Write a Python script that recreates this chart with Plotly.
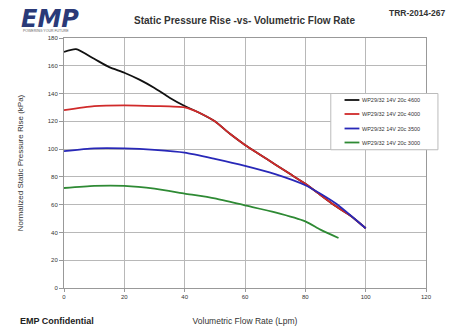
import plotly.graph_objects as go

series_names = ["WP29/32 14V 20c 4600", "WP29/32 14V 20c 4000",
                "WP29/32 14V 20c 3500", "WP29/32 14V 20c 3000"]
colors = ["#111111", "#d02a2a", "#2828b8", "#2e8a34"]

x_black = [0, 4, 10, 15, 20, 25, 30, 35, 40, 45, 50, 55, 60, 65, 70, 75, 80, 85, 90, 95, 100]
y_black = [170, 172, 165, 159, 155, 150, 144, 137, 131, 126, 120, 111, 103, 96, 89, 82, 75, 67, 59, 52, 43]
x_red = [0, 10, 20, 30, 40, 45, 50, 55, 60, 65, 70, 75, 80, 85, 90, 95, 100]
y_red = [128, 131, 131.5, 131, 130, 126, 120, 111, 103, 96, 89, 82, 75, 67, 59, 52, 43]
x_blue = [0, 10, 20, 30, 40, 50, 60, 70, 80, 90, 100]
y_blue = [98.5, 100.5, 100.5, 99.5, 97.5, 93, 88, 82, 74, 61, 43]
x_green = [0, 10, 20, 30, 40, 50, 60, 70, 80, 85, 91]
y_green = [72, 73.5, 73.5, 71.5, 68, 64.5, 59.5, 54.5, 48, 42, 36]

x_ticks = [0, 20, 40, 60, 80, 100, 120]
y_ticks = [0, 20, 40, 60, 80, 100, 120, 140, 160, 180]

xs = [x_black, x_red, x_blue, x_green]
ys = [y_black, y_red, y_blue, y_green]

fig = go.Figure()
for name, c, xv, yv in zip(series_names, colors, xs, ys):
    fig.add_trace(go.Scatter(x=xv, y=yv, mode="lines", name=name, showlegend=False,
                             line=dict(color=c, width=1.8, shape="spline", smoothing=0.6)))

font = "Liberation Sans, Arial, sans-serif"
# page body has an 8px default margin, so the figure is 8px smaller than the window
fig.update_layout(
    width=446, height=328,
    margin=dict(l=49, r=28, t=30, b=41),
    paper_bgcolor="white", plot_bgcolor="white",
    font=dict(family=font, size=6, color="#333"),
    showlegend=False,
    xaxis=dict(range=[0, 120], tickvals=x_ticks, showgrid=True, gridcolor="#b8b8b8",
               gridwidth=1, showline=True, linecolor="#999", mirror=True,
               ticks="outside", ticklen=3, tickcolor="#999", zeroline=False,
               tickfont=dict(size=6, color="#333"),
               title=dict(text="Volumetric Flow Rate (Lpm)", font=dict(size=8.5, color="#333"), standoff=18)),
    yaxis=dict(range=[0, 180], tickvals=y_ticks, showgrid=True, gridcolor="#b8b8b8",
               gridwidth=1, showline=True, linecolor="#999", mirror=True,
               ticks="outside", ticklen=4, tickcolor="#999", zeroline=False,
               tickfont=dict(size=6, color="#333"),
               title=dict(text="Normalized Static Pressure Rise (kPa)", font=dict(size=8, color="#333"), standoff=22)),
)

# legend box (manual, compact like the reference)
leg_x0, leg_x1, leg_y0, leg_y1 = 0.737, 1.033, 0.553, 0.778
fig.add_shape(type="rect", xref="paper", yref="paper", x0=leg_x0, x1=leg_x1, y0=leg_y0, y1=leg_y1,
              line=dict(color="#bbbbbb", width=1), fillcolor="white", layer="above")
leg_rows = [0.752, 0.696, 0.638, 0.582]
for name, c, yr in zip(series_names, colors, leg_rows):
    fig.add_shape(type="line", xref="paper", yref="paper", x0=0.775, x1=0.816, y0=yr, y1=yr,
                  line=dict(color=c, width=1.8), layer="above")
    fig.add_annotation(text=name, xref="paper", yref="paper", x=0.818, y=yr, xanchor="left",
                       yanchor="middle", showarrow=False, font=dict(size=5.5, color="#333"))

fig.add_annotation(text="<b>Static Pressure Rise -vs- Volumetric Flow Rate</b>", xref="paper", yref="paper",
                   x=0.499, y=1.0, yanchor="middle", yshift=18, showarrow=False,
                   font=dict(size=10, color="#333"))
fig.add_annotation(text="<b>TRR-2014-267</b>", xref="paper", yref="paper",
                   x=1.0, xshift=21, y=1.0, yanchor="middle", yshift=25, showarrow=False, xanchor="right",
                   font=dict(size=8.5, color="#333"))
fig.add_annotation(text="<b><i>EMP</i></b>", xref="paper", yref="paper",
                   x=0, xshift=-45, y=1.0, yanchor="middle", yshift=19, showarrow=False, xanchor="left",
                   font=dict(size=24, color="#2a3a78", family="DejaVu Sans"))
fig.add_annotation(text="POWERING YOUR FUTURE", xref="paper", yref="paper",
                   x=0, xshift=-43, y=1.0, yanchor="middle", yshift=7, showarrow=False, xanchor="left",
                   font=dict(size=3.5, color="#666"))
fig.add_annotation(text="<b>EMP Confidential</b>", xref="paper", yref="paper",
                   x=0, xshift=-46, y=0, yanchor="middle", yshift=-33, showarrow=False, xanchor="left",
                   font=dict(size=9, color="#222"))

fig.write_html("out.html")
